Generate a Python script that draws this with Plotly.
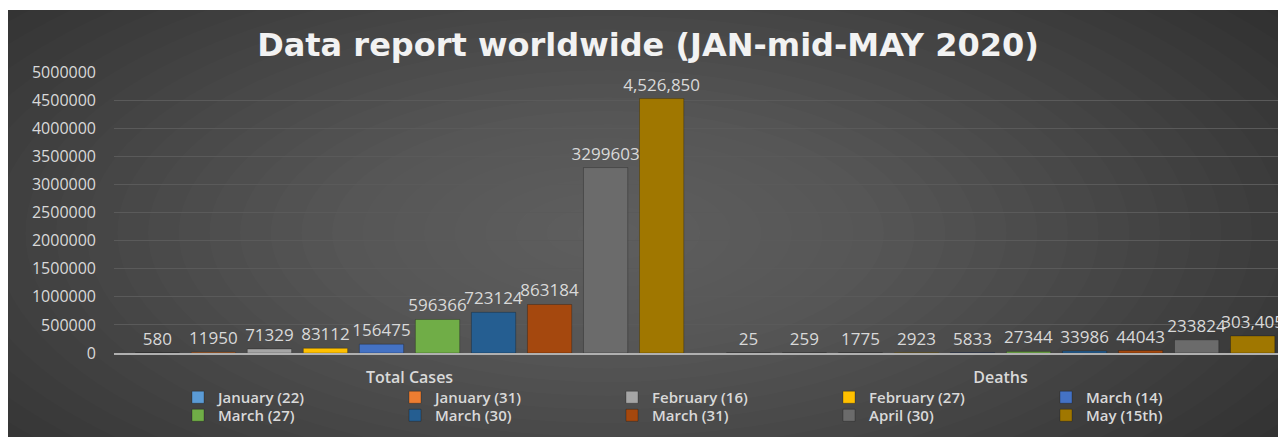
import plotly.graph_objects as go

# page body adds an 8px margin, so the figure is 8px smaller than the window
W, H = 1278, 429

categories = ["Total Cases", "Deaths"]
series_names = ["January (22)", "January (31)", "February (16)", "February (27)", "March (14)",
                "March (27)", "March (30)", "March (31)", "April (30)", "May (15th)"]
total_cases = [580, 11950, 71329, 83112, 156475, 596366, 723124, 863184, 3299603, 4526850]
deaths = [25, 259, 1775, 2923, 5833, 27344, 33986, 44043, 233824, 303405]
comma_format = [False, False, False, False, False, False, False, False, False, True]
legend_row = ["legend", "legend", "legend", "legend", "legend",
              "legend2", "legend2", "legend2", "legend2", "legend2"]
colors = ["#5B9BD5", "#ED7D31", "#A5A5A5", "#FFC000", "#4472C4",
          "#70AD47", "#255E91", "#A5480E", "#6B6B6B", "#A07700"]
y_ticks = [0, 500000, 1000000, 1500000, 2000000, 2500000, 3000000, 3500000, 4000000, 4500000, 5000000]

fig = go.Figure()
for i, name in enumerate(series_names):
    vals = [total_cases[i], deaths[i]]
    txt = [(f"{v:,}" if comma_format[i] else str(v)) for v in vals]
    fig.add_trace(go.Bar(
        name=name, x=categories, y=vals, text=txt, legend=legend_row[i],
        textposition="outside", cliponaxis=False, constraintext="none",
        textfont=dict(color="#d9d9d9", size=17, family="Open Sans"),
        marker=dict(color=colors[i], line=dict(color="rgba(0,0,0,0.25)", width=1)),
    ))

# soft radial glow on the dark background
shapes = []
cx, cy = 600 / W, 1 - 225 / H
n = 30
for k in range(n):
    f = 1 - k / n
    rx = 0.72 * f
    ry = 0.95 * f
    shapes.append(dict(type="circle", xref="paper", yref="paper",
                       x0=cx - rx, x1=cx + rx, y0=cy - ry, y1=cy + ry,
                       fillcolor="rgba(255,255,255,0.0115)", line=dict(width=0), layer="below"))
# thin white strip at the very top
shapes.append(dict(type="rect", xref="paper", yref="paper", x0=-0.01, x1=1.01, y0=1 - 2 / H, y1=1.01,
                   fillcolor="white", line=dict(width=0), layer="below"))

legend_common = dict(orientation="h", xanchor="left", yanchor="top",
                     entrywidth=172, entrywidthmode="pixels", traceorder="normal",
                     bgcolor="rgba(0,0,0,0)",
                     font=dict(family="Open Sans", size=15, color="#d9d9d9", weight=600))

fig.update_layout(
    template="none",
    width=W, height=H,
    margin=dict(l=0, r=0, t=0, b=0, autoexpand=False),
    paper_bgcolor="#2a2a2a",
    plot_bgcolor="rgba(0,0,0,0)",
    shapes=shapes,
    barmode="group",
    bargap=0.052,
    bargroupgap=0.21,
    title=dict(text="<b>Data report worldwide (JAN-mid-MAY 2020)</b>",
               x=640 / W, xanchor="center", y=1 - 37 / H, yanchor="middle", yref="container",
               font=dict(family="DejaVu Sans", size=32, color="#f2f2f2")),
    xaxis=dict(domain=[106 / W, 1], range=[-0.5, 1.483], showgrid=False,
               showline=True, linecolor="#b0b0b0", linewidth=2,
               ticks="", ticklabelstandoff=9, automargin=False,
               tickfont=dict(family="Open Sans", size=16, color="#d9d9d9", weight=600)),
    yaxis=dict(domain=[84 / H, 365 / H], range=[0, 5000000],
               tickvals=y_ticks, ticktext=[str(t) for t in y_ticks],
               showgrid=True, gridcolor="#5a5a5a", gridwidth=1, zeroline=False,
               ticks="", ticklabelstandoff=17, automargin=False,
               tickfont=dict(family="Open Sans", size=16, color="#d9d9d9")),
    showlegend=True,
    legend=dict(x=170 / W, y=1 - 373 / H, **legend_common),
    legend2=dict(x=170 / W, y=1 - 391 / H, **legend_common),
)

fig.write_html("out.html")
